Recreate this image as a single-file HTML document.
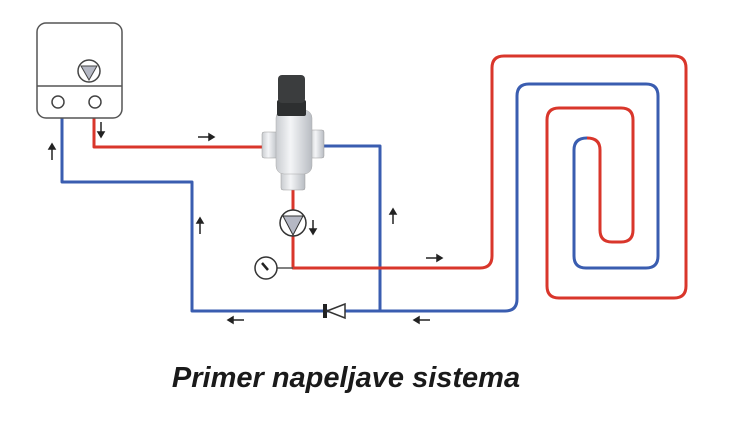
<!DOCTYPE html>
<html><head><meta charset="utf-8"><style>
html,body{margin:0;padding:0;background:#fff;width:731px;height:447px;overflow:hidden}
svg{position:absolute;left:0;top:0}
.cap{position:absolute;left:0;width:692px;top:362px;line-height:1;text-align:center;font:italic bold 29px "Liberation Sans",sans-serif;color:#1a1a1a;white-space:nowrap}
</style></head><body>
<svg width="731" height="447" viewBox="0 0 731 447">
<defs>
<linearGradient id="met" x1="0" x2="1" y1="0" y2="0">
<stop offset="0" stop-color="#c9ccd0"/><stop offset="0.4" stop-color="#f4f5f7"/><stop offset="1" stop-color="#b8bcc2"/></linearGradient>
</defs>
<g fill="none" stroke-width="3" stroke-linejoin="round">
<path d="M62 118 V182 H192 V311 H380 V146 H324" stroke="#3a5db0"/>
<path d="M380 311 H505 Q517 311 517 299 V96 Q517 84 529 84 H646 Q658 84 658 96 V256 Q658 268 646 268 H586 Q574 268 574 256 V150 Q574 138 587 138" stroke="#3a5db0"/>
<path d="M94 118 V147 H262" stroke="#d9362b"/>
<path d="M293 190 V268 H480 Q492 268 492 256 V68 Q492 56 504 56 H674 Q686 56 686 68 V286 Q686 298 674 298 H559 Q547 298 547 286 V120 Q547 108 559 108 H621 Q633 108 633 120 V230 Q633 242 621 242 H612 Q600 242 600 230 V150 Q600 138 587 138" stroke="#d9362b"/>
</g>
<rect x="37" y="23" width="85" height="95" rx="9" fill="#fff" stroke="#555" stroke-width="1.5"/>
<line x1="37" y1="86" x2="122" y2="86" stroke="#555" stroke-width="1.5"/>
<circle cx="89" cy="71" r="11" fill="#fff" stroke="#444" stroke-width="1.5"/>
<path d="M81 66 H97 L89 80 Z" fill="#b5b8c4" stroke="#444"/>
<circle cx="58" cy="102" r="6" fill="#fff" stroke="#444" stroke-width="1.5"/>
<circle cx="95" cy="102" r="6" fill="#fff" stroke="#444" stroke-width="1.5"/>
<rect x="262" y="132" width="16" height="26" rx="2" fill="url(#met)" stroke="#999" stroke-width=".5"/>
<rect x="310" y="130" width="14" height="28" rx="2" fill="url(#met)" stroke="#999" stroke-width=".5"/>
<rect x="281" y="170" width="24" height="20" rx="2" fill="url(#met)" stroke="#999" stroke-width=".5"/>
<rect x="276" y="110" width="36" height="64" rx="8" fill="url(#met)" stroke="#aaa" stroke-width=".5"/>
<rect x="277" y="100" width="29" height="16" rx="2" fill="#2d2f30"/>
<rect x="278" y="75" width="27" height="28" rx="4" fill="#3b3d3e"/>
<circle cx="293" cy="223" r="13" fill="#fff" stroke="#333" stroke-width="1.5"/>
<path d="M283 216 H303 L293 235 Z" fill="#b5b8c4" stroke="#333"/>
<line x1="277" y1="268" x2="293" y2="268" stroke="#555" stroke-width="1.5"/>
<circle cx="266" cy="268" r="11" fill="#fff" stroke="#333" stroke-width="1.5"/>
<line x1="262" y1="263" x2="268" y2="270" stroke="#222" stroke-width="2.5"/>
<rect x="323" y="304" width="4" height="14" fill="#222"/>
<path d="M327 311 L345 304 V318 Z" fill="#fff" stroke="#333" stroke-width="1.5"/>
<g stroke="#222" stroke-width="1.5" fill="#222">
<line x1="198" y1="137" x2="210" y2="137"/><path d="M214 137 l-5 -3 v6z"/>
<line x1="101" y1="122" x2="101" y2="133"/><path d="M101 137 l-3 -5 h6z"/>
<line x1="52" y1="160" x2="52" y2="148"/><path d="M52 144 l-3 5 h6z"/>
<line x1="200" y1="234" x2="200" y2="222"/><path d="M200 218 l-3 5 h6z"/>
<line x1="313" y1="220" x2="313" y2="230"/><path d="M313 234 l-3 -5 h6z"/>
<line x1="393" y1="224" x2="393" y2="213"/><path d="M393 209 l-3 5 h6z"/>
<line x1="426" y1="258" x2="438" y2="258"/><path d="M442 258 l-5 -3 v6z"/>
<line x1="244" y1="320" x2="232" y2="320"/><path d="M228 320 l5 -3 v6z"/>
<line x1="430" y1="320" x2="418" y2="320"/><path d="M414 320 l5 -3 v6z"/>
</g>
</svg>
<div class="cap">Primer napeljave sistema</div>
</body></html>
